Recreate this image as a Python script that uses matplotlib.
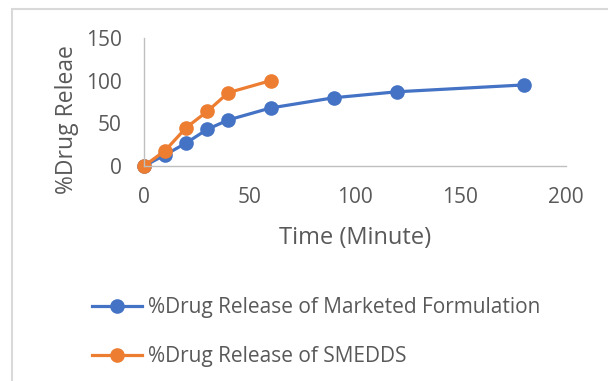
import matplotlib.pyplot as plt
from matplotlib.patches import Rectangle

plt.rcParams["font.family"] = ["Open Sans", "DejaVu Sans"]

time_marketed = [0, 10, 20, 30, 40, 60, 90, 120, 180]
release_marketed = [0, 13, 27, 43, 54, 68, 80, 87, 95]

time_smedds = [0, 10, 20, 30, 40, 60]
release_smedds = [0, 18, 45, 64, 86, 100]

x_ticks = [0, 50, 100, 150, 200]
y_ticks = [0, 50, 100, 150]

BLUE = "#4472C4"
ORANGE = "#ED7D31"
TEXT = "#595959"
AXIS = "#BFBFBF"


def main() -> None:
    fig = plt.figure(figsize=(6.08, 3.81), dpi=100)

    # outer chart frame, runs off the right and bottom edges
    fig.patches.append(Rectangle((12 / 608, -0.05), 1.0, 1.05 - 9 / 381,
                                 transform=fig.transFigure, fill=False,
                                 edgecolor="#D9D9D9", linewidth=1.5))

    ax = fig.add_axes([144 / 608, 1 - 166 / 381, 422 / 608, 128 / 381])
    ax.plot(time_marketed, release_marketed, color=BLUE, linewidth=2.3,
            marker="o", markersize=9.5, label="%Drug Release of Marketed Formulation",
            clip_on=False)
    ax.plot(time_smedds, release_smedds, color=ORANGE, linewidth=2.3,
            marker="o", markersize=9.5, label="%Drug Release of SMEDDS",
            clip_on=False)

    ax.set_xlim(0, 200)
    ax.set_ylim(0, 150)
    ax.set_xticks(x_ticks)
    ax.set_yticks(y_ticks)
    ax.tick_params(length=0, labelsize=15, labelcolor=TEXT)
    ax.tick_params(axis="x", pad=15)
    ax.tick_params(axis="y", pad=16)

    for side in ("top", "right"):
        ax.spines[side].set_visible(False)
    for side in ("left", "bottom"):
        ax.spines[side].set_color(AXIS)
        ax.spines[side].set_linewidth(1.0)

    ax.set_xlabel("Time (Minute)", fontsize=17, color=TEXT, labelpad=13)
    ax.set_ylabel("%Drug Releae", fontsize=16.5, color=TEXT)
    # y title sits a bit below the middle of the axis
    ax.yaxis.set_label_coords(-0.153, 0.36)

    handles, labels = ax.get_legend_handles_labels()
    fig.legend(handles, labels, loc="upper left", bbox_to_anchor=(84 / 608, 1 - 289 / 381),
               frameon=False, fontsize=15, labelcolor=TEXT, handlelength=2.4,
               handletextpad=0.25, labelspacing=1.35, borderaxespad=0)

    fig.savefig("out.png", dpi=100)
    plt.close(fig)


if __name__ == "__main__":
    main()
